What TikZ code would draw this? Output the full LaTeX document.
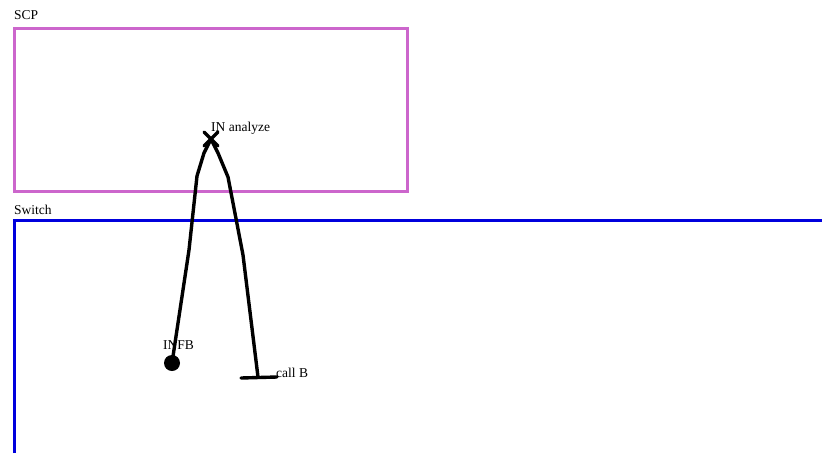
\documentclass[tikz,border=0pt]{standalone}
\usepackage{fontspec}
\setmainfont{Liberation Serif}
\begin{document}
\begin{tikzpicture}[x=1pt,y=-1pt,
  lbl/.style={font=\fontsize{13.5}{15}\selectfont, inner sep=0pt, anchor=base west},
  wire/.style={line width=3.4pt, line join=round, line cap=round, black}]
\useasboundingbox (0,0) rectangle (822,453);
% SCP box
\draw[line width=3pt, color={rgb,255:red,204;green,102;blue,204}] (14,28) rectangle (407,191);
\node[lbl] (scp) at (14,19) {SCP};
% Switch
\draw[line width=3pt, color={rgb,255:red,0;green,0;blue,221}] (14,453) -- (14,220) -- (822,220);
\node[lbl] (sw) at (14,214) {Switch};
% points
\coordinate (x) at (211,139);
\coordinate (dot) at (172,363);
\coordinate (t) at (258,377);
% X mark
\draw[wire] (204,132) -- (218,146) (218,132) -- (204,146);
\node[lbl] (ina) at (211,131) {IN analyze};
% left path
\draw[wire] (x) -- (204,153) -- (197,176) -- (189,250) -- (dot);
\fill (dot) circle (8);
\node[lbl] (infb) at (163,349) {INFB};
% right path
\draw[wire] (x) -- (218,153) -- (228,177) -- (243,255) -- (t);
\draw[wire] (241,378) -- (277,377);
\node[lbl] (cb) at (276,377) {call B};
\end{tikzpicture}
\end{document}
